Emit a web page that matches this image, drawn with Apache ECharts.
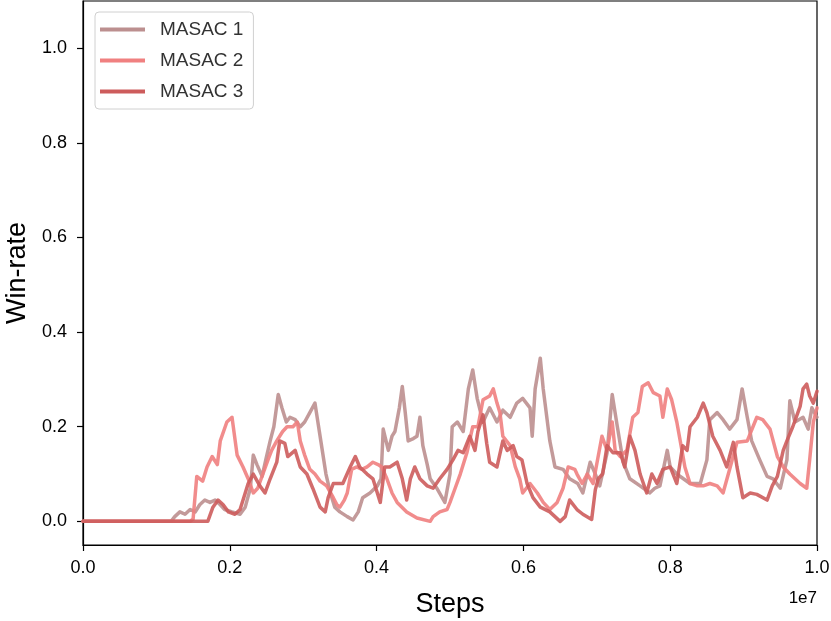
<!DOCTYPE html>
<html>
<head>
<meta charset="utf-8">
<script src="https://cdn.jsdelivr.net/npm/echarts@6/dist/echarts.min.js"></script>
<style>
  html, body { margin: 0; padding: 0; background: #fff; }
  #main { width: 831px; height: 621px; }
</style>
</head>
<body>
<div id="main"></div>
<script>
// steps in units of 1e7
var x1 = [0, 0.120, 0.125, 0.132, 0.139, 0.146, 0.153, 0.159, 0.166, 0.173,
  0.180, 0.187, 0.193, 0.203, 0.214, 0.221, 0.228, 0.232, 0.237, 0.244,
  0.249, 0.255, 0.260, 0.266, 0.271, 0.277, 0.282, 0.289, 0.296, 0.302,
  0.309, 0.316, 0.320, 0.326, 0.331, 0.337, 0.343, 0.350, 0.360, 0.368,
  0.375, 0.381, 0.391, 0.401, 0.406, 0.409, 0.416, 0.421, 0.425, 0.431,
  0.435, 0.439, 0.443, 0.450, 0.455, 0.459, 0.463, 0.469, 0.473, 0.482,
  0.493, 0.500, 0.503, 0.510, 0.518, 0.525, 0.531, 0.537, 0.545, 0.554,
  0.564, 0.572, 0.582, 0.591, 0.599, 0.609, 0.612, 0.616, 0.623, 0.627,
  0.636, 0.643, 0.654, 0.663, 0.674, 0.681, 0.691, 0.698, 0.704, 0.714,
  0.721, 0.728, 0.736, 0.745, 0.759, 0.772, 0.779, 0.786, 0.796, 0.800,
  0.809, 0.827, 0.841, 0.850, 0.854, 0.864, 0.872, 0.881, 0.891, 0.898,
  0.905, 0.911, 0.922, 0.932, 0.940, 0.950, 0.959, 0.963, 0.970, 0.981,
  0.988, 0.993, 1.0];
var masac1 = [0, 0, 0.01, 0.02, 0.015, 0.025, 0.02, 0.035, 0.045, 0.04,
  0.045, 0.035, 0.025, 0.02, 0.015, 0.03, 0.07, 0.14, 0.12, 0.095,
  0.13, 0.17, 0.2, 0.268, 0.24, 0.21, 0.22, 0.215, 0.2, 0.21,
  0.23, 0.25, 0.21, 0.15, 0.1, 0.06, 0.03, 0.02, 0.01, 0.003,
  0.02, 0.05, 0.06, 0.075, 0.09, 0.195, 0.15, 0.18, 0.19, 0.24,
  0.285, 0.23, 0.17, 0.175, 0.18, 0.22, 0.16, 0.12, 0.09, 0.07,
  0.04, 0.1, 0.2, 0.21, 0.19, 0.28, 0.32, 0.26, 0.21, 0.24,
  0.21, 0.235, 0.22, 0.25, 0.26, 0.24, 0.18, 0.28, 0.345, 0.28,
  0.17, 0.115, 0.11, 0.09, 0.08, 0.06, 0.125, 0.1, 0.075, 0.145,
  0.268, 0.2, 0.125, 0.09, 0.075, 0.06, 0.07, 0.075, 0.15, 0.115,
  0.1, 0.08, 0.08, 0.13, 0.215, 0.23, 0.215, 0.195, 0.215, 0.28,
  0.22, 0.17, 0.13, 0.095, 0.09, 0.07, 0.13, 0.255, 0.21, 0.22,
  0.195, 0.24, 0.22];

var x2 = [0, 0.146, 0.150, 0.155, 0.163, 0.169, 0.176, 0.183, 0.187, 0.196,
  0.203, 0.210, 0.218, 0.225, 0.232, 0.238, 0.245, 0.252, 0.257, 0.264,
  0.272, 0.278, 0.286, 0.292, 0.296, 0.302, 0.309, 0.316, 0.323, 0.332,
  0.341, 0.346, 0.350, 0.356, 0.360, 0.366, 0.373, 0.380, 0.387, 0.395,
  0.402, 0.407, 0.414, 0.421, 0.428, 0.441, 0.455, 0.473, 0.477, 0.486,
  0.496, 0.500, 0.507, 0.514, 0.523, 0.531, 0.538, 0.545, 0.554, 0.559,
  0.564, 0.568, 0.572, 0.582, 0.589, 0.595, 0.599, 0.609, 0.619, 0.627,
  0.636, 0.646, 0.654, 0.661, 0.670, 0.673, 0.680, 0.687, 0.695, 0.707,
  0.714, 0.721, 0.725, 0.732, 0.741, 0.749, 0.756, 0.762, 0.770, 0.777,
  0.786, 0.790, 0.796, 0.802, 0.809, 0.816, 0.820, 0.827, 0.837, 0.845,
  0.854, 0.864, 0.872, 0.881, 0.891, 0.905, 0.918, 0.926, 0.936, 0.946,
  0.954, 0.963, 0.977, 0.986, 0.990, 0.995, 1.0];
var masac2 = [0, 0, 0.005, 0.095, 0.085, 0.115, 0.137, 0.12, 0.17, 0.21,
  0.22, 0.14, 0.115, 0.09, 0.06, 0.07, 0.1, 0.13, 0.15, 0.17,
  0.19, 0.2, 0.2, 0.21, 0.17, 0.14, 0.11, 0.1, 0.085, 0.075,
  0.05, 0.035, 0.03, 0.045, 0.06, 0.11, 0.115, 0.11, 0.115, 0.125,
  0.12, 0.115, 0.09, 0.06, 0.04, 0.02, 0.007, 0.0, 0.01, 0.02,
  0.025, 0.04, 0.07, 0.1, 0.145, 0.2, 0.2, 0.257, 0.265, 0.28,
  0.25, 0.23, 0.18, 0.16, 0.115, 0.09, 0.06, 0.08, 0.06, 0.04,
  0.025, 0.04, 0.07, 0.115, 0.11, 0.1, 0.08, 0.1, 0.08, 0.18,
  0.15, 0.21, 0.15, 0.137, 0.15, 0.22, 0.23, 0.285, 0.293, 0.272,
  0.265, 0.22, 0.28, 0.257, 0.21, 0.15, 0.115, 0.08, 0.075, 0.075,
  0.08, 0.075, 0.06, 0.11, 0.167, 0.17, 0.22, 0.215, 0.195, 0.137,
  0.115, 0.1, 0.08, 0.07, 0.13, 0.21, 0.24];

var x3 = [0, 0.170, 0.177, 0.184, 0.191, 0.198, 0.207, 0.214, 0.221, 0.225,
  0.232, 0.241, 0.248, 0.255, 0.264, 0.268, 0.275, 0.279, 0.289, 0.296,
  0.305, 0.313, 0.323, 0.330, 0.334, 0.341, 0.346, 0.354, 0.364, 0.371,
  0.377, 0.387, 0.395, 0.405, 0.411, 0.418, 0.428, 0.435, 0.441, 0.446,
  0.452, 0.459, 0.469, 0.477, 0.486, 0.496, 0.504, 0.511, 0.518, 0.527,
  0.534, 0.538, 0.545, 0.550, 0.554, 0.564, 0.572, 0.578, 0.586, 0.591,
  0.598, 0.605, 0.613, 0.623, 0.636, 0.650, 0.657, 0.663, 0.673, 0.681,
  0.693, 0.698, 0.702, 0.708, 0.714, 0.722, 0.732, 0.738, 0.745, 0.752,
  0.759, 0.768, 0.775, 0.782, 0.790, 0.800, 0.809, 0.817, 0.823, 0.827,
  0.837, 0.845, 0.850, 0.858, 0.868, 0.877, 0.886, 0.891, 0.899, 0.909,
  0.918, 0.932, 0.939, 0.946, 0.954, 0.959, 0.967, 0.977, 0.981, 0.986,
  0.990, 0.995, 1.0];
var masac3 = [0, 0, 0.03, 0.045, 0.035, 0.02, 0.015, 0.025, 0.06, 0.08,
  0.1, 0.075, 0.06, 0.09, 0.125, 0.17, 0.165, 0.137, 0.15, 0.115,
  0.1, 0.07, 0.03, 0.02, 0.05, 0.08, 0.08, 0.08, 0.115, 0.137,
  0.115, 0.1, 0.09, 0.04, 0.115, 0.115, 0.125, 0.09, 0.045, 0.09,
  0.115, 0.09, 0.075, 0.07, 0.09, 0.11, 0.13, 0.15, 0.145, 0.18,
  0.15, 0.19, 0.225, 0.165, 0.125, 0.115, 0.17, 0.15, 0.16, 0.137,
  0.13, 0.08, 0.05, 0.03, 0.02, 0.0, 0.01, 0.045, 0.025, 0.015,
  0.004, 0.067, 0.09, 0.1, 0.16, 0.145, 0.145, 0.115, 0.18, 0.15,
  0.1, 0.06, 0.1, 0.08, 0.11, 0.115, 0.08, 0.16, 0.15, 0.2,
  0.22, 0.25, 0.23, 0.18, 0.15, 0.115, 0.167, 0.115, 0.05, 0.06,
  0.057, 0.045, 0.075, 0.095, 0.15, 0.17, 0.2, 0.243, 0.28, 0.29,
  0.265, 0.25, 0.275];

var seriesNames = ['MASAC 1', 'MASAC 2', 'MASAC 3'];
var seriesColors = ['#bc8f8f', '#f08080', '#cd5c5c'];
var xTicks = [0, 0.2, 0.4, 0.6, 0.8, 1.0];
var yTicks = [0, 0.2, 0.4, 0.6, 0.8, 1.0];

var FONT = '"Liberation Sans", Arial, sans-serif';

function zip(xs, ys) {
  var out = [];
  for (var i = 0; i < xs.length; i++) out.push([xs[i], ys[i]]);
  return out;
}

var allX = [x1, x2, x3];
var allY = [masac1, masac2, masac3];

var myChart = echarts.init(document.getElementById('main'), null, { renderer: 'canvas' });
myChart.setOption({
  animation: false,
  backgroundColor: '#fff',
  grid: {
    left: 83, right: 14, top: 1, bottom: 76,
    outerBoundsMode: 'none', containLabel: false,
    show: true, borderColor: '#000', borderWidth: 1.2, backgroundColor: 'transparent'
  },
  legend: {
    data: seriesNames,
    orient: 'vertical',
    left: 95, top: 12,
    icon: 'rect',
    itemWidth: 45, itemHeight: 4, itemGap: 12,
    padding: [8, 10, 8, 5],
    backgroundColor: '#fff',
    borderColor: '#d0d0d0', borderWidth: 1, borderRadius: 4,
    textStyle: { fontFamily: FONT, fontSize: 19, color: '#333', padding: [0, 0, 0, 10], lineHeight: 19 }
  },
  xAxis: {
    type: 'value', min: 0, max: 1,
    name: 'Steps', nameLocation: 'middle', nameGap: 46,
    nameTextStyle: { fontFamily: FONT, fontSize: 27, color: '#000' },
    axisLine: { show: true, onZero: false, lineStyle: { color: '#000', width: 1.2 } },
    axisTick: { show: true, customValues: xTicks, length: 6, lineStyle: { color: '#000', width: 1.2 } },
    axisLabel: {
      customValues: xTicks, fontFamily: FONT, fontSize: 18, color: '#000', margin: 14,
      formatter: function (v) { return v.toFixed(1); }
    },
    splitLine: { show: false }
  },
  yAxis: {
    type: 'value', min: -0.05, max: 1.1,
    name: 'Win-rate', nameLocation: 'middle', nameGap: 52, nameRotate: 90,
    nameTextStyle: { fontFamily: FONT, fontSize: 27, color: '#000' },
    axisLine: { show: true, onZero: false, lineStyle: { color: '#000', width: 1.2 } },
    axisTick: { show: true, customValues: yTicks, length: 6, lineStyle: { color: '#000', width: 1.2 } },
    axisLabel: {
      customValues: yTicks, fontFamily: FONT, fontSize: 18, color: '#000', margin: 16,
      formatter: function (v) { return v.toFixed(1); }
    },
    splitLine: { show: false }
  },
  graphic: [{
    type: 'text', right: 14, top: 590,
    style: { text: '1e7', font: '17px ' + FONT, fill: '#000' }
  }],
  series: seriesNames.map(function (name, i) {
    return {
      name: name,
      type: 'line',
      data: zip(allX[i], allY[i]),
      showSymbol: false,
      symbol: 'none',
      color: seriesColors[i],
      lineStyle: { width: 3.5, color: seriesColors[i], opacity: 0.9, join: 'round', cap: 'round' },
      z: 2 + i
    };
  })
});
</script>
</body>
</html>
